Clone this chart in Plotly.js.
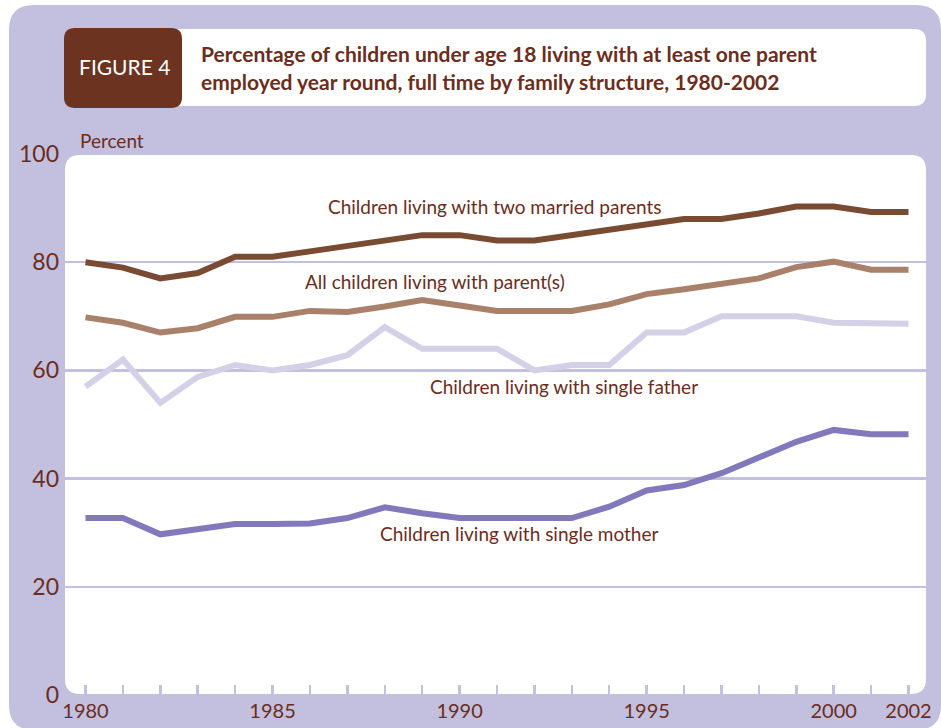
<!DOCTYPE html>
<html>
<head>
<meta charset="utf-8">
<script src="https://cdn.plot.ly/plotly-3.0.1.min.js"></script>
<style>html,body{margin:0;padding:0;background:#fff;}#chart{width:941px;height:728px;}</style>
</head>
<body>
<div id="chart"></div>
<script>
var years = [1980,1981,1982,1983,1984,1985,1986,1987,1988,1989,1990,1991,1992,1993,1994,1995,1996,1997,1998,1999,2000,2001,2002];
var twoMarried   = [80,79,77,78,81,81,82,83,84,85,85,84,84,85,86,87,88,88,89,90.3,90.3,89.3,89.3];
var allChildren  = [69.8,68.8,67,67.8,69.9,69.9,71,70.8,71.8,73,72,71,71,71,72.2,74.1,75,76,77,79.1,80.1,78.6,78.6];
var singleFather = [57,62,54,58.8,61,60,61,62.8,68,64,64,64,60,61,61,67,67,70,70,70,68.8,68.6,68.6];
var singleMother = [32.7,32.7,29.7,30.7,31.6,31.6,31.7,32.7,34.7,33.6,32.7,32.7,32.7,32.7,34.8,37.8,38.8,41,43.9,46.8,49,48.2,48.2];
var xLabelYears = [1980,1985,1990,1995,2000,2002];
var yTicks = [0,20,40,60,80,100];
var seriesNames = ["Children living with two married parents","All children living with parent(s)","Children living with single father","Children living with single mother"];
var titleLines = ["Percentage of children under age 18 living with at least one parent","employed year round, full time by family structure, 1980-2002"];

var W = 941, H = 728, ML = 65, MR = 15, MT = 154, MB = 33;
var PW = W - ML - MR, PH = H - MT - MB;
function X(px){ return (px - ML) / PW; }
function Y(py){ return (H - MB - py) / PH; }
function rr(x0,y0,x1,y1,r){
  var c = r;
  var p = 'M'+X(x0+c)+','+Y(y0)+' L'+X(x1-c)+','+Y(y0)+' Q'+X(x1)+','+Y(y0)+' '+X(x1)+','+Y(y0+c)+
          ' L'+X(x1)+','+Y(y1-c)+' Q'+X(x1)+','+Y(y1)+' '+X(x1-c)+','+Y(y1)+
          ' L'+X(x0+c)+','+Y(y1)+' Q'+X(x0)+','+Y(y1)+' '+X(x0)+','+Y(y1-c)+
          ' L'+X(x0)+','+Y(y0+c)+' Q'+X(x0)+','+Y(y0)+' '+X(x0+c)+','+Y(y0)+' Z';
  return p;
}
var LAV = '#c3bfdf', BROWN_TXT = '#6b2d1c';
var colors = ['#7a4b33','#a98069','#d4d0e8','#8179bb'];
var series = [twoMarried, allChildren, singleFather, singleMother];

var traces = series.map(function(s,i){
  return {x: years, y: s, type:'scatter', mode:'lines', name: seriesNames[i],
          line:{color: colors[i], width: 6, shape:'linear'}, hoverinfo:'x+y'};
});

var tickText = years.map(function(y){ return xLabelYears.indexOf(y) >= 0 ? String(y) : ''; });

var shapes = [
  {type:'path', xref:'paper', yref:'paper', layer:'below', path: rr(9,5,941,730,25), fillcolor: LAV, line:{width:0}},
  {type:'path', xref:'paper', yref:'paper', layer:'below', path: rr(150,29,926,106,12), fillcolor: '#ffffff', line:{width:0}},
  {type:'path', xref:'paper', yref:'paper', layer:'below', path: rr(64,28,182,108,11), fillcolor: '#6b3320', line:{width:0}},
  {type:'path', xref:'paper', yref:'paper', layer:'below', path: rr(65,155,926,694,15), fillcolor: '#ffffff', line:{width:0}}
];

var F = 'Lato, "Open Sans", sans-serif';
var annotations = [
  {xref:'paper', yref:'paper', x: X(124), y: Y(67), text:'FIGURE 4', showarrow:false, xanchor:'center', yanchor:'middle',
   font:{family:F, size:21, color:'#ffffff'}},
  {xref:'paper', yref:'paper', x: X(199), y: Y(53), text: titleLines[0], showarrow:false, xanchor:'left', yanchor:'middle',
   font:{family:F, size:21, color:BROWN_TXT, weight:'bold'}},
  {xref:'paper', yref:'paper', x: X(199), y: Y(81), text: titleLines[1], showarrow:false, xanchor:'left', yanchor:'middle',
   font:{family:F, size:21, color:BROWN_TXT, weight:'bold'}},
  {xref:'paper', yref:'paper', x: X(78), y: Y(141), text:'Percent', showarrow:false, xanchor:'left', yanchor:'middle',
   font:{family:F, size:19, color:BROWN_TXT}},
  {xref:'x', yref:'y', x: 1990.95, y: 90.3, text: seriesNames[0], showarrow:false, xanchor:'center', yanchor:'middle',
   font:{family:F, size:19, color:BROWN_TXT}},
  {xref:'x', yref:'y', x: 1989.35, y: 76.4, text: seriesNames[1], showarrow:false, xanchor:'center', yanchor:'middle',
   font:{family:F, size:19, color:BROWN_TXT}},
  {xref:'x', yref:'y', x: 1992.8, y: 57.1, text: seriesNames[2], showarrow:false, xanchor:'center', yanchor:'middle',
   font:{family:F, size:19, color:BROWN_TXT}},
  {xref:'x', yref:'y', x: 1991.6, y: 29.8, text: seriesNames[3], showarrow:false, xanchor:'center', yanchor:'middle',
   font:{family:F, size:19, color:BROWN_TXT}}
];

var x0 = 1980 - (85.5 - ML) / 37.41, x1 = 2002 + (926 - 908.5) / 37.41;

var layout = {
  width: W, height: H,
  margin:{l:ML, r:MR, t:MT, b:MB, pad:0},
  paper_bgcolor:'#ffffff', plot_bgcolor:'rgba(0,0,0,0)',
  showlegend:false,
  xaxis:{range:[x0,x1], tickmode:'array', tickvals: years, ticktext: tickText,
         ticks:'inside', ticklen:10, tickwidth:2.5, tickcolor: LAV,
         showgrid:false, zeroline:false, showline:false,
         tickfont:{family:F, size:20, color:BROWN_TXT}, ticklabelstandoff: 2},
  yaxis:{range:[0,100], tickmode:'array', tickvals: yTicks, ticks:'',
         showgrid:true, gridcolor: LAV, gridwidth:2.5, zeroline:false, showline:false,
         tickfont:{family:F, size:23, color:BROWN_TXT}, ticklabelstandoff: 5},
  shapes: shapes,
  annotations: annotations
};

Plotly.newPlot('chart', traces, layout, {displayModeBar:false, staticPlot:true});
</script>
</body>
</html>
